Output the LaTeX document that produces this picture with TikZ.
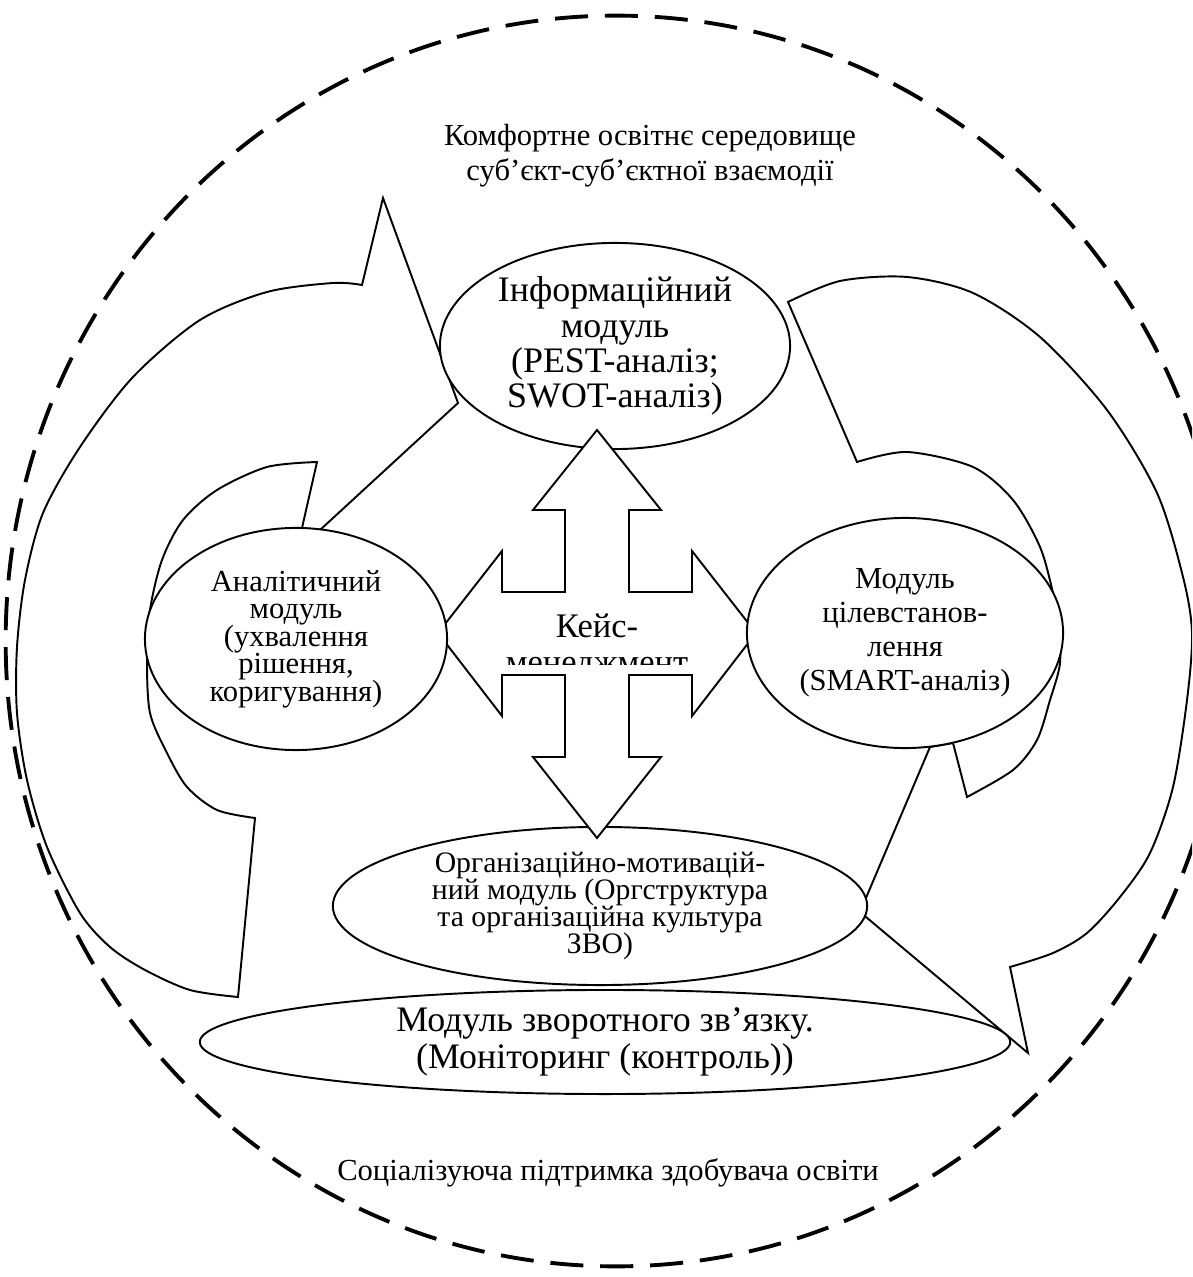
\documentclass[tikz,border=0pt]{standalone}
\usepackage{fontspec}
\setmainfont{Liberation Serif}
\usetikzlibrary{shapes.geometric}
\lineskiplimit=-20pt

\tikzset{
  rim/.style={line width=1.1pt, dash pattern=on 9.4pt off 4.8pt},
  band/.style={draw, fill=white, line width=0.55pt, line join=miter},
  modul/.style={ellipse, draw, fill=white, line width=0.55pt, inner sep=0pt, align=center},
  label/.style={inner sep=0pt, align=center}
}

\begin{document}
\begin{tikzpicture}[x=0.01cm, y=-0.01cm]
    % Межі малюнка
    \clip (0,0) rectangle (1192,1277);

    % Зовнішній пунктирний контур
    \draw[rim] (616,641) ellipse [x radius=6.1cm, y radius=6.25cm];

    % Ліва дугова стрілка (вгору)
    \filldraw[band] (255,818) -- (238,997)
      -- plot[smooth] coordinates {(238,997) (190,990) (145,970) (110,947) (80,913) (47,847) (27,780) (17,713) (17,647) (25,580) (43,513) (80,447) (133,377) (200,320) (267,292) (333,283) (362,285)}
      -- (383,198) -- (458,403) -- (320,530) -- (302,528) -- (317,462)
      -- plot[smooth] coordinates {(317,462) (267,467) (217,490) (183,520) (162,560) (150,610) (147,660) (150,713) (167,753) (187,787) (217,810) (255,818)}
      -- cycle;

    % Права дугова стрілка (вниз)
    \filldraw[band] (788,302)
      -- plot[smooth] coordinates {(788,302) (840,281) (907,277) (973,293) (1040,337) (1107,410) (1157,493) (1183,577) (1192,633) (1187,700) (1173,787) (1150,853) (1120,897) (1087,933) (1053,953) (1010,967)}
      -- (1028,1053) -- (860,912) -- (930,747) -- (953,743) -- (967,797)
      -- plot[smooth] coordinates {(967,797) (1013,770) (1037,740) (1050,700) (1060,663) (1058,620) (1053,593) (1040,547) (1013,500) (973,467) (907,452) (857,462)}
      -- cycle;

    % Модулі під хрестовою стрілкою
    \node[modul, minimum width=3.5cm, minimum height=2.06cm,
          font=\fontsize{10.2}{10}\selectfont] (info) at (615,346)
          {Інформаційний\\модуль\\(PEST-аналіз;\\SWOT-аналіз)};
    \node[modul, minimum width=5.34cm, minimum height=1.58cm,
          font=\fontsize{8.45}{7.7}\selectfont] (org) at (600,906)
          {Організаційно-мотивацій-\\ний модуль (Оргструктура\\та організаційна культура\\ЗВО)};
    \node[modul, minimum width=8.1cm, minimum height=1.04cm,
          font=\fontsize{10.2}{10.5}\selectfont] (zvjazok) at (605,1042)
          {Модуль зворотного зв’язку.\\(Моніторинг (контроль))};

    % Хрестова стрілка
    \filldraw[band] (565,592) -- (565,510) -- (533,510) -- (597,430) -- (661,510) -- (629,510)
      -- (629,592) -- (692,592) -- (692,551) -- (756,633) -- (692,716) -- (692,675)
      -- (629,675) -- (629,757) -- (661,757) -- (597,838) -- (533,757) -- (565,757)
      -- (565,675) -- (502,675) -- (502,716) -- (438,633) -- (502,551) -- (502,592) -- cycle;
    \begin{scope}
      \clip (502,592) rectangle (692,665);
      \node[label, font=\fontsize{9.8}{10.2}\selectfont] (kejs) at (597,647) {Кейс-\\менеджмент};
    \end{scope}

    % Бічні модулі
    \node[modul, minimum width=3.02cm, minimum height=2.22cm,
          font=\fontsize{8.7}{7.8}\selectfont] (analit) at (296,639)
          {Аналітичний\\модуль\\(ухвалення\\рішення,\\коригування)};
    \node[modul, minimum width=3.16cm, minimum height=2.3cm,
          font=\fontsize{8.7}{9.7}\selectfont] (smart) at (905,633)
          {Модуль\\цілевстанов-\\лення\\(SMART-аналіз)};

    % Підписи середовища
    \node[label, font=\fontsize{8.7}{10}\selectfont] (komfort) at (650,156)
          {Комфортне освітнє середовище\\суб’єкт-суб’єктної взаємодії};
    \node[label, font=\fontsize{8.7}{10}\selectfont] (pidtrymka) at (608,1173)
          {Соціалізуюча підтримка здобувача освіти};
\end{tikzpicture}
\end{document}
